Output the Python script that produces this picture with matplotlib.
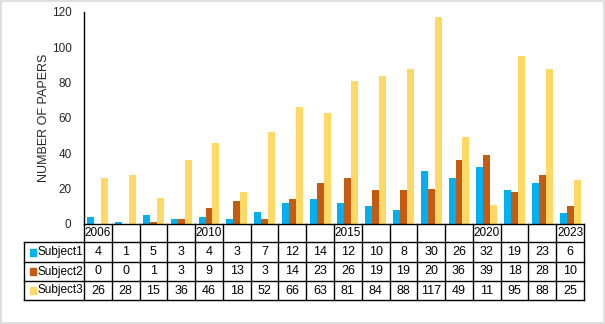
import numpy as np
import matplotlib
matplotlib.use("Agg")
import matplotlib.pyplot as plt
import matplotlib.transforms as mtransforms
from matplotlib.patches import Rectangle

years = ["2006", "", "", "", "2010", "", "", "", "", "2015", "", "", "", "", "2020", "", "", "2023"]
subject1 = [4, 1, 5, 3, 4, 3, 7, 12, 14, 12, 10, 8, 30, 26, 32, 19, 23, 6]
subject2 = [0, 0, 1, 3, 9, 13, 3, 14, 23, 26, 19, 19, 20, 36, 39, 18, 28, 10]
subject3 = [26, 28, 15, 36, 46, 18, 52, 66, 63, 81, 84, 88, 117, 49, 11, 95, 88, 25]
series_names = ["Subject1", "Subject2", "Subject3"]
colors = ["#00B0F0", "#C55A11", "#FFD966"]

plt.rcParams['font.family'] = ['Liberation Sans', 'DejaVu Sans']
fig = plt.figure(figsize=(6.05, 3.24), dpi=100)
fig.patches.append(Rectangle((0.002, 0.003), 0.996, 0.994, transform=fig.transFigure,
                             fill=False, edgecolor="#D9D9D9", linewidth=1.2))

ax = fig.add_axes([84 / 605, 1 - 224 / 324, 500 / 605, 212 / 324])
n = len(years)
x = np.arange(n)
w = 0.25
for i, (vals, c) in enumerate(zip([subject1, subject2, subject3], colors)):
    ax.bar(x + (i - 1) * w, vals, width=w, color=c, zorder=2)

ax.set_xlim(-0.5, n - 0.5)
ax.set_ylim(0, 120)
ax.set_yticks(range(0, 121, 20))
ax.tick_params(axis="y", length=0, labelsize=8.5, colors="#262626", pad=9)
ax.set_xticks([])
for s in ["top", "right", "bottom"]:
    ax.spines[s].set_visible(False)
ax.spines["left"].set_color("black")
ax.spines["left"].set_linewidth(1.0)
ax.set_ylabel("NUMBER OF PAPERS", fontsize=9, color="#262626", labelpad=1)

# data table under the axes (x in data units, y in axes fraction)
trans = mtransforms.blended_transform_factory(ax.transData, ax.transAxes)
px = 1 / 212  # one pixel in axes fraction (vertical)
rows_y = [0, -18 * px, -38 * px, -57 * px, -76 * px]
cell = 500 / n
legend_left = -0.5 - 60 / cell
kw = dict(transform=trans, color="black", lw=1.0, clip_on=False)

# horizontal lines
ax.plot([-0.5, n - 0.5], [rows_y[0]] * 2, **kw)
for yy in rows_y[1:]:
    ax.plot([legend_left, n - 0.5], [yy] * 2, **kw)
# vertical lines
for k in range(n + 1):
    ax.plot([k - 0.5] * 2, [rows_y[0], rows_y[-1]], **kw)
ax.plot([legend_left] * 2, [rows_y[1], rows_y[-1]], **kw)

# category row
for k, lab in enumerate(years):
    ax.text(k, (rows_y[0] + rows_y[1]) / 2, lab, transform=trans, ha="center", va="center",
            fontsize=8.5, color="black", clip_on=False)

# series rows
for r, (name, vals, c) in enumerate(zip(series_names, [subject1, subject2, subject3], colors)):
    yc = (rows_y[r + 1] + rows_y[r + 2]) / 2
    ax.add_patch(Rectangle((legend_left + 6 / cell, yc - 3.5 * px), 6 / cell, 7 * px,
                           transform=trans, color=c, clip_on=False))
    ax.text(legend_left + 13.5 / cell, yc, name, transform=trans, ha="left", va="center",
            fontsize=8.5, color="black", clip_on=False)
    for k, v in enumerate(vals):
        ax.text(k, yc, str(v), transform=trans, ha="center", va="center",
                fontsize=9, color="black", clip_on=False)

fig.savefig("out.png", dpi=100)
